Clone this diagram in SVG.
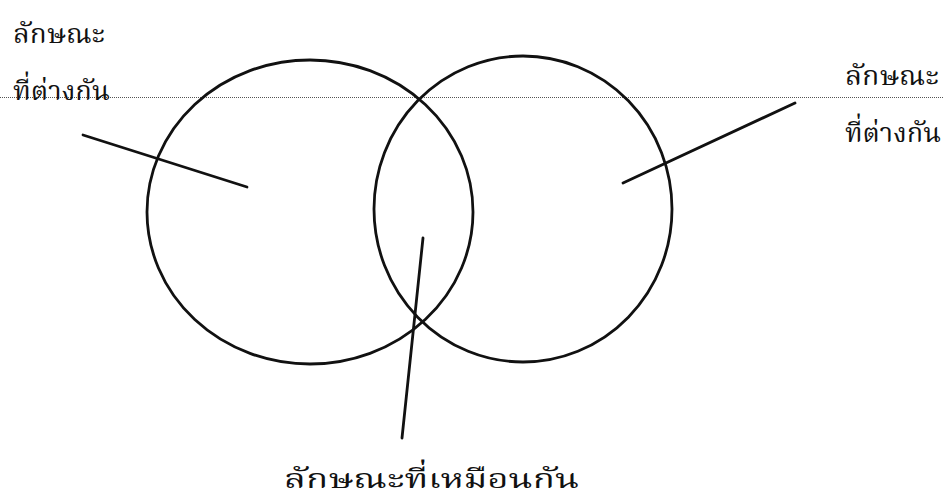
<svg xmlns="http://www.w3.org/2000/svg" width="943" height="502" viewBox="0 0 943 502">
<style>
.c{fill:none;stroke:#111;stroke-width:2.8}
.l{stroke:#111;stroke-width:2.8;stroke-linecap:round}
.t{font-family:"Noto Serif Thai","Noto Sans Thai","Noto Sans","DejaVu Sans",serif;font-size:27px;fill:#111}
</style>
<rect width="943" height="502" fill="#fff"/>
<g id="guide"><line x1="0" y1="97.5" x2="943" y2="97.5" stroke="#555" stroke-width="1" stroke-dasharray="1 1"/></g>
<g id="left-circle"><ellipse class="c" cx="310" cy="212" rx="163" ry="152"/></g>
<g id="right-circle"><ellipse class="c" cx="523" cy="209" rx="149" ry="153"/></g>
<g id="connectors">
<line class="l" x1="83" y1="135" x2="247" y2="187"/>
<line class="l" x1="623" y1="183" x2="795" y2="103"/>
<line class="l" x1="423" y1="238" x2="402" y2="438"/>
</g>
<g id="label-left">
<text class="t" x="13" y="43" textLength="92" lengthAdjust="spacingAndGlyphs">ลักษณะ</text>
<text class="t" x="13" y="100" textLength="97" lengthAdjust="spacingAndGlyphs">ที่ต่างกัน</text>
</g>
<g id="label-right">
<text class="t" x="845" y="85" textLength="94" lengthAdjust="spacingAndGlyphs">ลักษณะ</text>
<text class="t" x="845" y="142" textLength="96" lengthAdjust="spacingAndGlyphs">ที่ต่างกัน</text>
</g>
<g id="label-bottom">
<text class="t" x="284" y="488" textLength="295" lengthAdjust="spacingAndGlyphs">ลักษณะที่เหมือนกัน</text>
</g>
</svg>
